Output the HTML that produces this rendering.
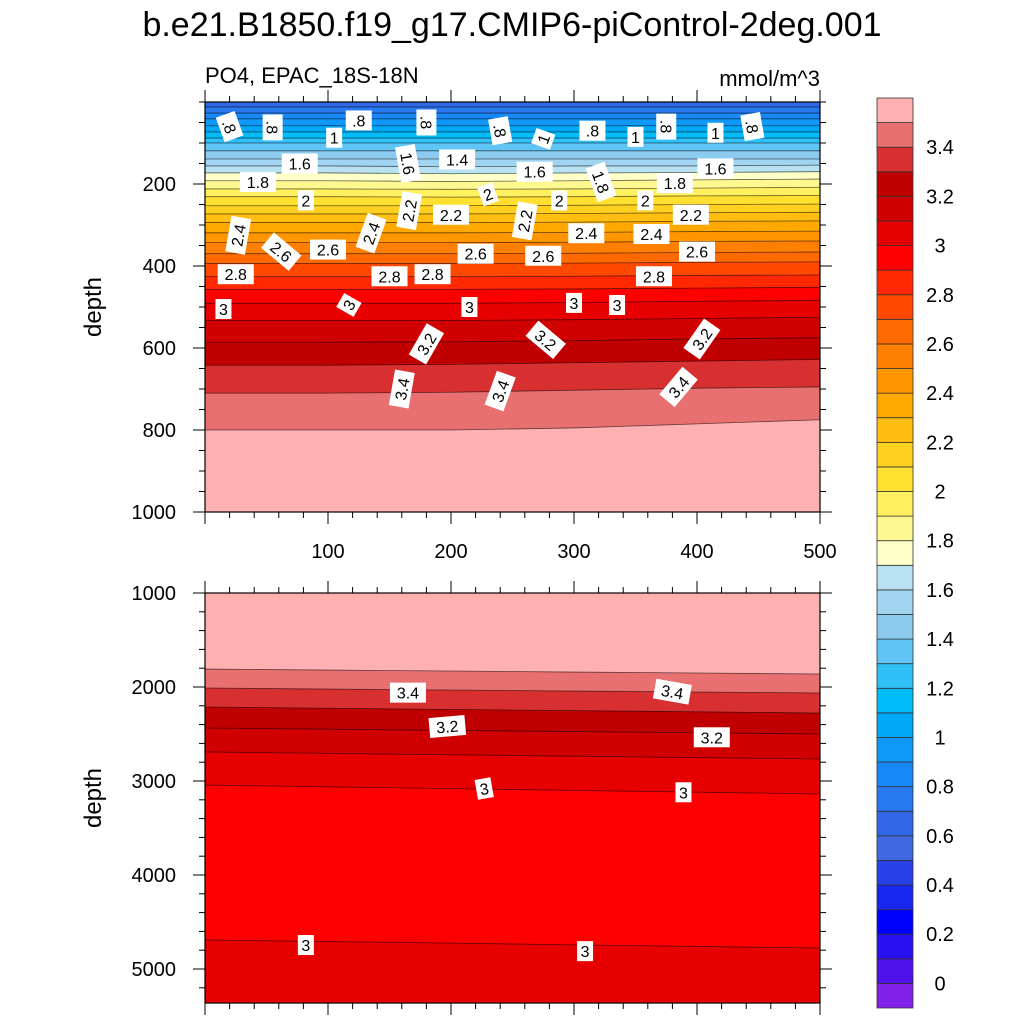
<!DOCTYPE html>
<html><head><meta charset="utf-8">
<style>
html,body{margin:0;padding:0;background:#fff;}
svg{display:block;font-family:"Liberation Sans",sans-serif;}
</style></head>
<body>
<svg id="chart" width="1024" height="1024" viewBox="0 0 1024 1024" xmlns="http://www.w3.org/2000/svg">
<text x="512" y="36" font-size="34" text-anchor="middle">b.e21.B1850.f19_g17.CMIP6-piControl-2deg.001</text>
<text x="205" y="83" font-size="22">PO4, EPAC_18S-18N</text>
<text x="820" y="86" font-size="22" text-anchor="end">mmol/m^3</text>
<text transform="translate(101,307) rotate(-90)" font-size="24" text-anchor="middle">depth</text>
<text transform="translate(101,798) rotate(-90)" font-size="24" text-anchor="middle">depth</text>
<g id="top"></g>
<g id="bottom"></g>
<g id="cbar"></g>
</svg>
<script>
// ---------- data ----------
const xSamples = [0, 100, 200, 300, 400, 500];
const levels = [0.7,0.8,0.9,1.0,1.1,1.2,1.3,1.4,1.5,1.6,1.7,1.8,1.9,2.0,2.1,2.2,2.3,2.4,2.5,2.6,2.7,2.8,2.9,3.0,3.1,3.2,3.3,3.4,3.5];
const topDepths = [
 [12,12,12,12,12,12],[27,27,27,27,27,27],[41,41,41,41,41,41],[58,58,58,58,58,58],
 [73,73,73,73,73,73],[88,88,88,88,88,88],[100,100,100,100,100,100],[119,119,119,119,119,119],
 [139,139,139,139,139,139],[156,156,158,156,156,154],[173,173,175,173,172,170],[192,192,194,192,190,188],
 [212,212,213,212,210,208],[231,231,232,231,229,228],[253,253,253,252,250,249],[273,273,273,272,270,269],
 [294,294,294,293,291,290],[319,319,319,318,316,315],[343,343,343,342,340,339],[370,370,370,369,367,366],
 [394,394,394,393,391,390],[426,426,426,425,423,422],[457,457,457,456,454,452],[491,491,491,489,486,484],
 [533,533,533,531,528,525],[586,586,585,582,578,575],[642,642,640,636,632,628],[710,710,708,703,698,695],
 [800,800,800,795,785,775]
];
// bottom panel: values decrease with depth; contours listed shallow to deep
const bottomLevels = [3.5,3.4,3.3,3.2,3.1,3.0];
const bottomDepths = [
 [1809,1820,1830,1841,1851,1862],
 [2011,2022,2032,2043,2053,2064],
 [2213,2226,2239,2251,2264,2277],
 [2436,2449,2462,2474,2487,2500],
 [2691,2706,2721,2736,2751,2766],
 [3043,3062,3081,3100,3119,3138]
];
const deepDepth = [4691,4708,4725,4743,4760,4777];
const bandColors = ["#8020e8","#5010e8","#2810f0","#0000ff","#1828f0","#2840e8","#4068e0","#3068e8","#2878f0","#1888f8","#1098f8","#00a8f8","#00bcf8","#30c0f8","#60c4f4","#8ccaf0","#a0d4f0","#b8e2f2","#ffffc8","#fff890","#fff060","#ffe030","#ffd020","#ffbe10","#ffa800","#ff9600","#ff7f00","#ff6a00","#ff4800","#ff2800","#ff0000","#e60000","#d00000","#c00000","#d83030","#e87070","#ffb0b0"];
const cbarLabels = ["0","0.2","0.4","0.6","0.8","1","1.2","1.4","1.6","1.8","2","2.2","2.4","2.6","2.8","3","3.2","3.4"];
const topYTicks = [200,400,600,800,1000];
const bottomYTicks = [1000,2000,3000,4000,5000];
const xTickLabels = [100,200,300,400,500];
const topLabels = [[20,60,".8",70],[55,62,".8",90],[105,87,"1",0],[125,45,".8",0],[180,50,".8",90],[240,70,".8",80],[275,90,"1",-70],[315,70,".8",0],[350,85,"1",0],[375,60,".8",90],[415,75,"1",0],[445,60,".8",80],
[77,150,"1.6",0],[165,150,"1.6",80],[205,140,"1.4",0],[268,170,"1.6",0],[322,195,"1.8",70],[415,162,"1.6",0],[43,195,"1.8",0],[382,198,"1.8",0],
[82,240,"2",0],[230,225,"2",-20],[288,240,"2",0],[358,240,"2",0],[166,265,"2.2",-80],[200,275,"2.2",0],[260,290,"2.2",-80],[395,275,"2.2",0],
[27,325,"2.4",-80],[135,320,"2.4",-70],[310,320,"2.4",0],[363,322,"2.4",0],[62,365,"2.6",40],[100,360,"2.6",0],[220,370,"2.6",0],[275,375,"2.6",0],[400,365,"2.6",0],
[25,420,"2.8",0],[150,425,"2.8",0],[185,420,"2.8",0],[365,425,"2.8",0],[15,505,"3",0],[117,495,"3",-60],[215,500,"3",0],[300,490,"3",0],[335,495,"3",0],
[180,590,"3.2",-60],[277,580,"3.2",40],[404,578,"3.2",-55],[160,700,"3.4",-80],[240,705,"3.4",-70],[385,695,"3.4",-50]];
const bottomLabels = [[165,2060,"3.4",0],[380,2050,"3.4",10],[197,2420,"3.2",-5],[412,2535,"3.2",0],[227,3080,"3",-10],[389,3120,"3",0],[82,4745,"3",0],[309,4810,"3",0]];

// ---------- helpers ----------
const NS = "http://www.w3.org/2000/svg";
function mk(tag, attrs, parent){const e=document.createElementNS(NS,tag);for(const k in attrs)e.setAttribute(k,attrs[k]);parent.appendChild(e);return e;}
const X0=205, X1=820;
function xScale(v){return X0 + (v/500)*(X1-X0);}
function yTop(d){return 102 + d*(512-102)/1000;}
function yBot(d){return 593 + (d-1000)*0.094;}
function bandIndex(lv){return Math.round(lv*10)+1;} // band [lv, lv+0.1]

// bands: list of {d: depths, color: band colour below this contour}
function drawPanel(g, yS, dMin, dMax, baseColor, bands, labels, yTicks, yMinorStep, xLabels){
  const yTopPx=yS(dMin), yBotPx=yS(dMax);
  const bg=mk('rect',{x:X0,y:yTopPx,width:X1-X0,height:yBotPx-yTopPx,fill:baseColor},g);
  
  
  bands.forEach(b=>{
    let pts=xSamples.map((xv,j)=>xScale(xv)+','+Math.max(yTopPx,Math.min(yBotPx,yS(b.d[j])))).join(' ');
    pts+=' '+X1+','+yBotPx+' '+X0+','+yBotPx;
    const p=mk('polygon',{points:pts,fill:b.color},g);
    
    
  });
  bands.forEach(b=>{
    const pts=xSamples.map((xv,j)=>xScale(xv)+','+yS(b.d[j])).join(' ');
    const l=mk('polyline',{points:pts,fill:'none',stroke:'#000','stroke-opacity':0.6,'stroke-width':0.8},g);
    
    
  });
  labels.forEach(L=>{
    const cx=xScale(L[0]), cy=yS(L[1]);
    const w=L[2].length*10+6;
    const lg=mk('g',{transform:'translate('+cx+','+cy+') rotate('+L[3]+')'},g);
    
    
    mk('rect',{x:-w/2,y:-10,width:w,height:20,fill:'#fff'},lg);
    const t=mk('text',{x:0,y:6,'font-size':16,'text-anchor':'middle'},lg);
    t.textContent=L[2];
  });
  const fr=mk('rect',{x:X0,y:yTopPx,width:X1-X0,height:yBotPx-yTopPx,fill:'none',stroke:'#000','stroke-width':1.2},g);
  
  
  for(let v=0;v<=500;v+=20){
    const x=xScale(v), major=v%100===0, len=major?12:6;
    mk('line',{x1:x,y1:yBotPx,x2:x,y2:yBotPx+len,stroke:'#000','stroke-width':1},g);
    mk('line',{x1:x,y1:yTopPx,x2:x,y2:yTopPx-len,stroke:'#000','stroke-width':1},g);
  }
  if(xLabels){
    xLabels.forEach(v=>{
      const t=mk('text',{x:xScale(v),y:yBotPx+46,'font-size':20,'text-anchor':'middle'},g);
      
      
      t.textContent=v;
    });
  }
  for(let d=yTicks[0]-(yMinorStep*Math.floor((yTicks[0]-dMin)/yMinorStep));d<=dMax;d+=yMinorStep){
    if(d<dMin) continue;
    const y=yS(d), major=yTicks.indexOf(d)>=0, len=major?12:6;
    mk('line',{x1:X0,y1:y,x2:X0-len,y2:y,stroke:'#000','stroke-width':1},g);
    mk('line',{x1:X1,y1:y,x2:X1+len,y2:y,stroke:'#000','stroke-width':1},g);
  }
  yTicks.forEach(d=>{
    const t=mk('text',{x:176,y:yS(d)+7,'font-size':20,'text-anchor':'end'},g);
    
    
    t.textContent=d;
  });
}

const gTop=document.getElementById('top');


const topBands = levels.map((lv,i)=>({d:topDepths[i], color:bandColors[bandIndex(lv)]}));
drawPanel(gTop, yTop, 0, 1000, bandColors[bandIndex(0.6)], topBands, topLabels, topYTicks, 50, xTickLabels);

const gBot=document.getElementById('bottom');


const botBands = bottomLevels.map((lv,i)=>({d:bottomDepths[i], color:bandColors[bandIndex(lv)-1]}));
botBands.push({d:deepDepth, color:bandColors[bandIndex(3.0)]});
drawPanel(gBot, yBot, 1000, 5362, bandColors[bandIndex(3.5)], botBands, bottomLabels, bottomYTicks, 200, null);

const gc=document.getElementById('cbar');


const cbTop=98, cbBot=1008, n=bandColors.length, bh=(cbBot-cbTop)/n;
bandColors.forEach((c,i)=>{
  const y=cbBot-(i+1)*bh;
  const r=mk('rect',{x:877,y:y,width:36,height:bh,fill:c,stroke:'#333','stroke-width':0.8},gc);
  
  
});
cbarLabels.forEach((s,i)=>{
  const y=cbBot-bh-(i*2)*bh;
  const t=mk('text',{x:940,y:y+7,'font-size':20,'text-anchor':'middle'},gc);
  
  
  t.textContent=s;
});
</script>
</body></html>
